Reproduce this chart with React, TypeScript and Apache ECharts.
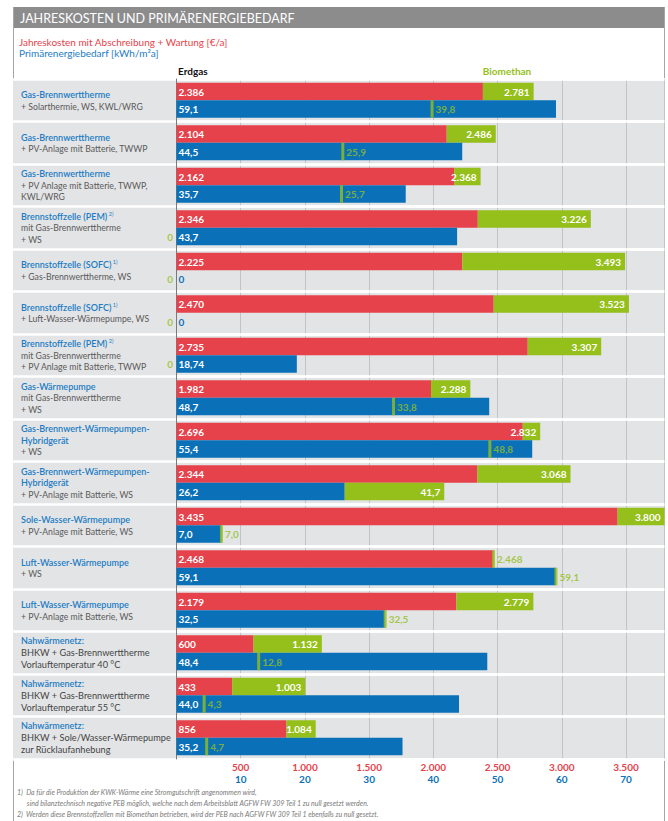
import React, { useEffect, useRef } from "react";
import * as echarts from "echarts";

// ---------- data ----------
const titles = [
  "Gas-Brennwerttherme",
  "Gas-Brennwerttherme",
  "Gas-Brennwerttherme",
  "Brennstoffzelle (PEM)",
  "Brennstoffzelle (SOFC)",
  "Brennstoffzelle (SOFC)",
  "Brennstoffzelle (PEM)",
  "Gas-Wärmepumpe",
  "Gas-Brennwert-Wärmepumpen-",
  "Gas-Brennwert-Wärmepumpen-",
  "Sole-Wasser-Wärmepumpe",
  "Luft-Wasser-Wärmepumpe",
  "Luft-Wasser-Wärmepumpe",
  "Nahwärmenetz:",
  "Nahwärmenetz:",
  "Nahwärmenetz:",
];
const titleSecondLines = ["", "", "", "", "", "", "", "", "Hybridgerät", "Hybridgerät", "", "", "", "", "", ""];
const notes = ["", "", "", "2)", "1)", "1)", "2)", "", "", "", "", "", "", "", "", ""];
const details = [
  ["+ Solarthermie, WS, KWL/WRG"],
  ["+ PV-Anlage mit Batterie, TWWP"],
  ["+ PV Anlage mit Batterie, TWWP,", "KWL/WRG"],
  ["mit Gas-Brennwerttherme", "+ WS"],
  ["+ Gas-Brennwerttherme, WS"],
  ["+ Luft-Wasser-Wärmepumpe, WS"],
  ["mit Gas-Brennwerttherme", "+ PV Anlage mit Batterie, TWWP"],
  ["mit Gas-Brennwerttherme", "+ WS"],
  ["+ WS"],
  ["+ PV-Anlage mit Batterie, WS"],
  ["+ PV-Anlage mit Batterie, WS"],
  ["+ WS"],
  ["+ PV-Anlage mit Batterie, WS"],
  ["BHKW + Gas-Brennwerttherme", "Vorlauftemperatur 40 °C"],
  ["BHKW + Gas-Brennwerttherme", "Vorlauftemperatur 55 °C"],
  ["BHKW + Sole/Wasser-Wärmepumpe", "zur Rücklaufanhebung"],
];
const costErdgas = [2386, 2104, 2162, 2346, 2225, 2470, 2735, 1982, 2696, 2344, 3435, 2468, 2179, 600, 433, 856];
const costBio = [2781, 2486, 2368, 3226, 3493, 3523, 3307, 2288, 2832, 3068, 3800, 2468, 2779, 1132, 1003, 1084];
const peErdgas = [59.1, 44.5, 35.7, 43.7, 0, 0, 18.74, 48.7, 55.4, 26.2, 7.0, 59.1, 32.5, 48.4, 44.0, 35.2];
const peBio = [39.8, 25.9, 25.7, 0, 0, 0, 0, 33.8, 48.8, 41.7, 7.0, 59.1, 32.5, 12.8, 4.3, 4.7];
const costAxis = { min: 0, max: 3800, interval: 500 };
const peAxis = { min: 0, max: 76, interval: 10 };
const headerLeft = "Erdgas";
const headerRight = "Biomethan";
const chartTitle = "JAHRESKOSTEN UND PRIMÄRENERGIEBEDARF";
const legendCost = "Jahreskosten mit Abschreibung + Wartung [€/a]";
const legendPe = "Primärenergiebedarf [kWh/m²a]";
const footnotes = [
  "1)  Da für die Produktion der KWK-Wärme eine Stromgutschrift angenommen wird,",
  "      sind bilanztechnisch negative PEB möglich, welche nach dem Arbeitsblatt AGFW FW 309 Teil 1 zu null gesetzt werden.",
  "2)  Werden diese Brennstoffzellen mit Biomethan betrieben, wird der PEB nach AGFW FW 309 Teil 1 ebenfalls zu null gesetzt.",
];

// ---------- style ----------
const RED = "#e6424b";
const GREEN = "#95bf1a";
const BLUE = "#0a71b9";
const LBLUE = "#1c7cc4";
const BG = "#e3e4e6";
const FONT = "Lato";
const BAR_H = 17.5;

const fmtCost = (n: number) => String(Math.round(n)).replace(/\B(?=(\d{3})+(?!\d))/g, ".");
const fmtPe = (n: number) => {
  if (n === 0) return "0";
  const one = Math.abs(n * 10 - Math.round(n * 10)) < 1e-9;
  return (one ? n.toFixed(1) : n.toFixed(2)).replace(".", ",");
};

export default function App() {
  const ref = useRef<HTMLDivElement>(null);
  useEffect(() => {
    if (!ref.current) return;
    const chart = echarts.init(ref.current, undefined, { renderer: "svg" });
    const cats = titles.map((t, i) => String(i));

    const greenCost = costBio.map((b, i) => (b > costErdgas[i] ? b - costErdgas[i] : "-"));
    const greenPe = peBio.map((b, i) => (b > peErdgas[i] ? +(b - peErdgas[i]).toFixed(3) : "-"));
    const costMarkers: any[] = [];
    costBio.forEach((b, i) => {
      if (b <= costErdgas[i]) costMarkers.push({ value: [b, i], label: { formatter: fmtCost(b) } });
    });
    const peMarkers: any[] = [];
    peBio.forEach((b, i) => {
      if (b <= peErdgas[i]) {
        if (b === 0) {
          peMarkers.push({
            value: [0, i],
            itemStyle: { color: "rgba(0,0,0,0)" },
            label: { position: "left", formatter: "0", distance: 2 },
          });
        } else {
          peMarkers.push({ value: [b, i], label: { formatter: fmtPe(b) } });
        }
      }
    });
    const blueData = peErdgas.map((v) => (v === 0 ? { value: 0, label: { color: BLUE } } : v));

    const labelFmt = (v: any, idx: number) => {
      const i = idx;
      const isNah = titles[i] === "Nahwärmenetz:";
      let s = `{t|${titles[i]}}`;
      if (notes[i]) s += `{sup| ${notes[i]}}`;
      if (titleSecondLines[i]) s += `\n{t|${titleSecondLines[i]}}`;
      details[i].forEach((d) => {
        s += `\n{${isNah ? "n" : "s"}|${d}}`;
      });
      return s;
    };

    const option: any = {
      animation: false,
      textStyle: { fontFamily: FONT },
      grid: [
        { left: 13, right: 3, top: 79, height: 680 },
        { left: 176.5, right: 3.5, top: 79, height: 680 },
      ],
      xAxis: [
        { gridIndex: 0, type: "value", show: false, min: 0, max: 1 },
        {
          gridIndex: 1,
          type: "value",
          position: "bottom",
          z: 1,
          min: costAxis.min,
          max: costAxis.max,
          interval: costAxis.interval,
          axisLine: { show: false },
          axisTick: { show: false },
          splitLine: { show: true, lineStyle: { color: "#c2c3c5", width: 1 } },
          axisLabel: {
            color: RED,
            fontWeight: "bold",
            fontSize: 10,
            fontFamily: FONT,
            margin: 3,
            showMinLabel: false,
            showMaxLabel: false,
            formatter: (v: number) => fmtCost(v),
          },
        },
        {
          gridIndex: 1,
          type: "value",
          position: "bottom",
          offset: 12,
          z: 1,
          min: peAxis.min,
          max: peAxis.max,
          interval: peAxis.interval,
          axisLine: { show: false },
          axisTick: { show: false },
          splitLine: { show: false },
          axisLabel: {
            color: BLUE,
            fontWeight: "bold",
            fontSize: 10,
            fontFamily: FONT,
            margin: 3,
            showMinLabel: false,
            showMaxLabel: false,
          },
        },
      ],
      yAxis: [
        {
          gridIndex: 0,
          type: "category",
          inverse: true,
          data: cats,
          z: 0,
          axisLine: { show: false },
          axisTick: { show: false },
          axisLabel: { show: false },
          splitArea: { show: true, areaStyle: { color: [BG, BG] } },
          splitLine: { show: true, lineStyle: { color: "#ffffff", width: 2.5 } },
        },
        {
          gridIndex: 1,
          type: "category",
          inverse: true,
          data: cats,
          z: 2,
          axisLine: { show: true, lineStyle: { color: "#7a7a7a", width: 1 } },
          axisTick: { show: false },
          splitLine: { show: true, lineStyle: { color: "#ffffff", width: 2.5 } },
          axisLabel: {
            align: "left",
            margin: 155.5,
            formatter: labelFmt,
            rich: {
              t: { color: LBLUE, fontSize: 9, fontWeight: 600, fontFamily: FONT, lineHeight: 11.5 },
              sup: { color: LBLUE, fontSize: 5.5, fontFamily: FONT, lineHeight: 11.5, padding: [0, 0, 5, 0] },
              s: { color: "#5a5a5a", fontSize: 8.7, fontFamily: FONT, lineHeight: 11.5 },
              n: { color: "#444444", fontSize: 9.2, fontFamily: FONT, lineHeight: 12 },
            },
          },
        },
      ],
      series: [
        {
          type: "bar",
          name: "Kosten Erdgas",
          xAxisIndex: 1,
          yAxisIndex: 1,
          stack: "cost",
          barWidth: BAR_H,
          barGap: 0,
          z: 5,
          data: costErdgas,
          itemStyle: { color: RED },
          label: {
            show: true,
            position: "insideLeft",
            distance: 2,
            color: "#fff",
            fontWeight: "bold",
            fontSize: 10,
            fontFamily: FONT,
            formatter: (p: any) => fmtCost(p.value),
          },
        },
        {
          type: "bar",
          name: "Kosten Biomethan",
          xAxisIndex: 1,
          yAxisIndex: 1,
          stack: "cost",
          barWidth: BAR_H,
          barGap: 0,
          z: 5,
          data: greenCost,
          itemStyle: { color: GREEN },
          label: {
            show: true,
            position: "insideRight",
            distance: 4,
            color: "#fff",
            fontWeight: "bold",
            fontSize: 10,
            fontFamily: FONT,
            formatter: (p: any) => fmtCost(costBio[p.dataIndex]),
          },
        },
        {
          type: "bar",
          name: "PEB Erdgas",
          xAxisIndex: 2,
          yAxisIndex: 1,
          stack: "pe",
          barWidth: BAR_H,
          barGap: 0,
          z: 5,
          data: blueData,
          itemStyle: { color: BLUE },
          label: {
            show: true,
            position: "insideLeft",
            distance: 2,
            color: "#fff",
            fontWeight: "bold",
            fontSize: 10,
            fontFamily: FONT,
            formatter: (p: any) => fmtPe(peErdgas[p.dataIndex]),
          },
        },
        {
          type: "bar",
          name: "PEB Biomethan",
          xAxisIndex: 2,
          yAxisIndex: 1,
          stack: "pe",
          barWidth: BAR_H,
          barGap: 0,
          z: 5,
          data: greenPe,
          itemStyle: { color: GREEN },
          label: {
            show: true,
            position: "insideRight",
            distance: 4,
            color: "#fff",
            fontWeight: "bold",
            fontSize: 10,
            fontFamily: FONT,
            formatter: (p: any) => fmtPe(peBio[p.dataIndex]),
          },
        },
        {
          type: "scatter",
          name: "Kosten Biomethan Marke",
          xAxisIndex: 1,
          yAxisIndex: 1,
          z: 6,
          symbol: "rect",
          symbolSize: [3, BAR_H],
          symbolOffset: [0, -BAR_H / 2],
          data: costMarkers,
          itemStyle: { color: GREEN },
          label: {
            show: true,
            position: "right",
            distance: 2,
            color: GREEN,
            fontWeight: "bold",
            fontSize: 10,
            fontFamily: FONT,
          },
        },
        {
          type: "scatter",
          name: "PEB Biomethan Marke",
          xAxisIndex: 2,
          yAxisIndex: 1,
          z: 6,
          symbol: "rect",
          symbolSize: [3, BAR_H],
          symbolOffset: [0, BAR_H / 2],
          data: peMarkers,
          itemStyle: { color: GREEN },
          label: {
            show: true,
            position: "right",
            distance: 2,
            color: GREEN,
            fontWeight: "bold",
            fontSize: 10,
            fontFamily: FONT,
          },
        },
      ],
      graphic: [
        { type: "rect", shape: { x: 13, y: 7, width: 652, height: 21 }, style: { fill: "#8c8c8d" }, z: -1 },
        { type: "line", shape: { x1: 13.5, y1: 7, x2: 13.5, y2: 821 }, style: { stroke: "#a5a5a5", lineWidth: 1 } },
        { type: "line", shape: { x1: 664.5, y1: 7, x2: 664.5, y2: 821 }, style: { stroke: "#a5a5a5", lineWidth: 1 } },
        {
          type: "text",
          x: 20,
          y: 18,
          style: { text: chartTitle, fill: "#ffffff", fontSize: 12.5, fontFamily: FONT, verticalAlign: "middle" },
        },
        {
          type: "text",
          x: 19,
          y: 41.5,
          style: { text: legendCost, fill: RED, fontSize: 10, fontFamily: FONT, verticalAlign: "middle" },
        },
        {
          type: "text",
          x: 19,
          y: 52.5,
          style: { text: legendPe, fill: LBLUE, fontSize: 10, fontFamily: FONT, verticalAlign: "middle" },
        },
        {
          type: "text",
          x: 178,
          y: 71,
          style: { text: headerLeft, fill: "#111", fontSize: 10, fontWeight: "bold", fontFamily: FONT, verticalAlign: "middle" },
        },
        {
          type: "text",
          x: 507,
          y: 71,
          style: {
            text: headerRight,
            fill: GREEN,
            fontSize: 10,
            fontWeight: "bold",
            fontFamily: FONT,
            verticalAlign: "middle",
            align: "center",
          },
        },
        ...footnotes.map((f, i) => ({
          type: "text",
          x: 17,
          y: 792 + i * 11,
          style: {
            text: f,
            fill: "#7a7a7a",
            fontSize: 7,
            fontStyle: "italic",
            fontFamily: FONT,
            verticalAlign: "middle",
          },
        })),
      ],
    };
    chart.setOption(option);
    return () => chart.dispose();
  }, []);
  return (
    <div
      ref={ref}
      style={{ position: "fixed", left: 0, top: 0, width: 668, height: 821, background: "#fff" }}
    />
  );
}
